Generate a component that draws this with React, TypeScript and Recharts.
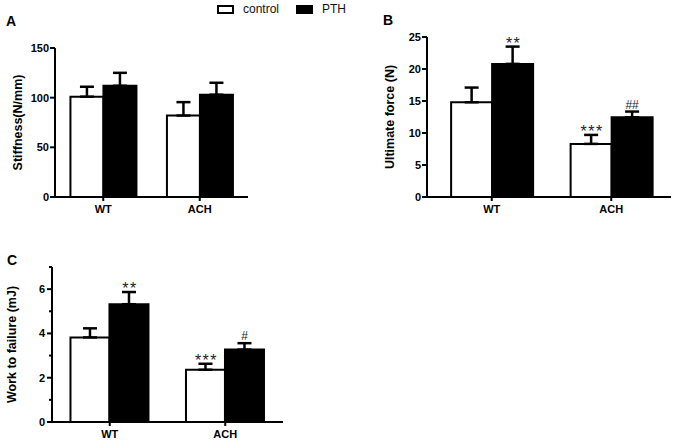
import { Bar, BarChart, ErrorBar, LabelList, Legend, XAxis, YAxis } from 'recharts';

const FONT = '"Liberation Sans", Arial, Helvetica, sans-serif';
const W = 679;
const H = 445;

const groups = ['WT', 'ACH'];
const seriesNames = ['control', 'PTH'];

// A: stiffness
const stiffnessControl = [101, 82];
const stiffnessControlErr = [10, 13.5];
const stiffnessPth = [112, 103];
const stiffnessPthErr = [13, 12];
const stiffnessTicks = [0, 50, 100, 150];

// B: ultimate force
const forceControl = [14.8, 8.3];
const forceControlErr = [2.3, 1.4];
const forcePth = [20.8, 12.45];
const forcePthErr = [2.7, 0.9];
const forceControlSig = ['', '***'];
const forcePthSig = ['**', '##'];
const forceTicks = [0, 5, 10, 15, 20, 25];

// C: work to failure
const workControl = [3.82, 2.36];
const workControlErr = [0.41, 0.27];
const workPth = [5.32, 3.27];
const workPthErr = [0.55, 0.29];
const workControlSig = ['', '***'];
const workPthSig = ['**', '#'];
const workTicks = [0, 1, 2, 3, 4, 5, 6, 7];

interface Row {
    group: string;
    control: number;
    controlErr: [number, number];
    pth: number;
    pthErr: [number, number];
    controlSig: string;
    pthSig: string;
}

function buildRows(c: number[], ce: number[], p: number[], pe: number[], cs?: string[], ps?: string[]): Row[] {
    return groups.map((group, i) => ({
        group,
        control: c[i],
        controlErr: [0, ce[i]],
        pth: p[i],
        pthErr: [0, pe[i]],
        controlSig: cs ? cs[i] : '',
        pthSig: ps ? ps[i] : '',
    }));
}

const stiffnessRows = buildRows(stiffnessControl, stiffnessControlErr, stiffnessPth, stiffnessPthErr);
const forceRows = buildRows(forceControl, forceControlErr, forcePth, forcePthErr, forceControlSig, forcePthSig);
const workRows = buildRows(workControl, workControlErr, workPth, workPthErr, workControlSig, workPthSig);

const tickStyle = { fontSize: 11, fontWeight: 700, fill: '#000', fontFamily: FONT };

function renderSig(p: any, rows: Row[], key: 'control' | 'pth') {
    if (!p.value) return null;
    const vb = p.viewBox ?? p;
    const row = rows[p.index];
    const h = Math.abs(Number(vb.height));
    const ppu = h / row[key];
    const top = Number(vb.y) - row[`${key}Err` as 'controlErr'][1] * ppu;
    const isHash = String(p.value).includes('#');
    return (
        <text
            x={Number(vb.x) + Number(vb.width) / 2 + (isHash ? 0 : 1)}
            y={top + (isHash ? -3 : 2)}
            textAnchor="middle"
            fontFamily={FONT}
            fontSize={isHash ? 12 : 16}
            letterSpacing={isHash ? 0 : 1.5}
            fill="#222"
        >
            {p.value}
        </text>
    );
}

function MinorTick({ x, y, payload }: any) {
    const axisX = x + 4 + 3;
    const major = payload.value % 2 === 0;
    return (
        <g>
            <line x1={axisX - (major ? 5 : 3)} x2={axisX} y1={y} y2={y} stroke="#000" strokeWidth={2} />
            {major && (
                <text x={x} y={y} dy={4} textAnchor="end" {...tickStyle}>
                    {payload.value}
                </text>
            )}
        </g>
    );
}

function LegendContent({ payload }: any) {
    const items = [...(payload ?? [])].sort(
        (a: any, b: any) => seriesNames.indexOf(a.value) - seriesNames.indexOf(b.value),
    );
    return (
        <div style={{ display: 'flex', alignItems: 'center', fontFamily: FONT, fontSize: 12, lineHeight: '14px', color: '#111' }}>
            {items.map((entry: any, i: number) => (
                <span key={entry.value} style={{ display: 'flex', alignItems: 'center', marginRight: i === 0 ? 17 : 0 }}>
                    <span
                        style={{
                            width: 13,
                            height: 5,
                            border: '2px solid #000',
                            background: entry.color,
                            marginRight: 9,
                        }}
                    />
                    {entry.value}
                </span>
            ))}
        </div>
    );
}

interface PanelProps {
    rows: Row[];
    domain: [number, number];
    ticks: number[];
    yLabel: string;
    labelX: number;
    margin: { top: number; right: number; left: number; bottom: number };
    padLeft?: number;
    minor?: boolean;
    legend?: boolean;
}

function Panel({ rows, domain, ticks, yLabel, labelX, margin, padLeft = 0, minor = false, legend = false }: PanelProps) {
    return (
        <div style={{ position: 'absolute', left: 0, top: 0 }}>
            <BarChart width={W} height={H} data={rows} margin={margin} barCategoryGap="16%" barGap={0}>
                <XAxis
                    dataKey="group"
                    height={20}
                    padding={{ left: padLeft, right: 0 }}
                    axisLine={{ stroke: '#000', strokeWidth: 2 }}
                    tickLine={{ stroke: '#000', strokeWidth: 2 }}
                    tickSize={4}
                    tickMargin={4}
                    tick={tickStyle}
                />
                <YAxis
                    width={40}
                    domain={domain}
                    ticks={ticks}
                    interval={0}
                    axisLine={{ stroke: '#000', strokeWidth: 2 }}
                    tickLine={minor ? false : { stroke: '#000', strokeWidth: 2 }}
                    tickSize={minor ? 4 : 5}
                    tickMargin={minor ? 3 : 1}
                    tick={minor ? <MinorTick /> : tickStyle}
                    label={{
                        content: (p: any) => {
                            const vb = p.viewBox;
                            const cy = vb.y + vb.height / 2;
                            return (
                                <text
                                    x={labelX}
                                    y={cy}
                                    transform={`rotate(-90 ${labelX} ${cy})`}
                                    textAnchor="middle"
                                    dominantBaseline="central"
                                    fontFamily={FONT}
                                    fontSize={12.5}
                                    fontWeight={700}
                                    fill="#000"
                                >
                                    {yLabel}
                                </text>
                            );
                        },
                    }}
                />
                {legend && (
                    <Legend
                        layout="horizontal"
                        verticalAlign="middle"
                        align="center"
                        itemSorter="dataKey"
                        wrapperStyle={{ top: 2, left: 217, width: 'auto', height: 14 }}
                        content={<LegendContent />}
                    />
                )}
                <Bar dataKey="control" name="control" fill="#fff" stroke="#000" strokeWidth={2} isAnimationActive={false}>
                    <ErrorBar dataKey="controlErr" width={7} stroke="#000" strokeWidth={2.5} direction="y" isAnimationActive={false} />
                    <LabelList dataKey="controlSig" content={(p: any) => renderSig(p, rows, 'control')} />
                </Bar>
                <Bar dataKey="pth" name="PTH" fill="#000" stroke="#000" strokeWidth={2} isAnimationActive={false}>
                    <ErrorBar dataKey="pthErr" width={7} stroke="#000" strokeWidth={2.5} direction="y" isAnimationActive={false} />
                    <LabelList dataKey="pthSig" content={(p: any) => renderSig(p, rows, 'pth')} />
                </Bar>
            </BarChart>
        </div>
    );
}

const letterStyle = {
    position: 'absolute' as const,
    fontFamily: FONT,
    fontWeight: 700,
    fontSize: 14,
    lineHeight: '14px',
    color: '#000',
};

export default function App() {
    return (
        <div style={{ position: 'absolute', left: 0, top: 0, width: W, height: H, background: '#fff', overflow: 'hidden' }}>
            <Panel
                rows={stiffnessRows}
                domain={[0, 150]}
                ticks={stiffnessTicks}
                yLabel="Stiffness(N/mm)"
                labelX={18}
                margin={{ top: 48, right: W - 248, left: 15, bottom: H - 197 - 20 }}
                legend
            />
            <Panel
                rows={forceRows}
                domain={[0, 25]}
                ticks={forceTicks}
                yLabel="Ultimate force (N)"
                labelX={390}
                margin={{ top: 37, right: W - 671, left: 387, bottom: H - 197 - 20 }}
                padLeft={5}
            />
            <Panel
                rows={workRows}
                domain={[0, 7]}
                ticks={workTicks}
                yLabel="Work to failure (mJ)"
                labelX={12}
                margin={{ top: 267, right: W - 283, left: 12, bottom: H - 422 - 20 }}
                minor
            />
            <div style={{ ...letterStyle, left: 6, top: 14 }}>A</div>
            <div style={{ ...letterStyle, left: 383, top: 13 }}>B</div>
            <div style={{ ...letterStyle, left: 7, top: 253 }}>C</div>
        </div>
    );
}
